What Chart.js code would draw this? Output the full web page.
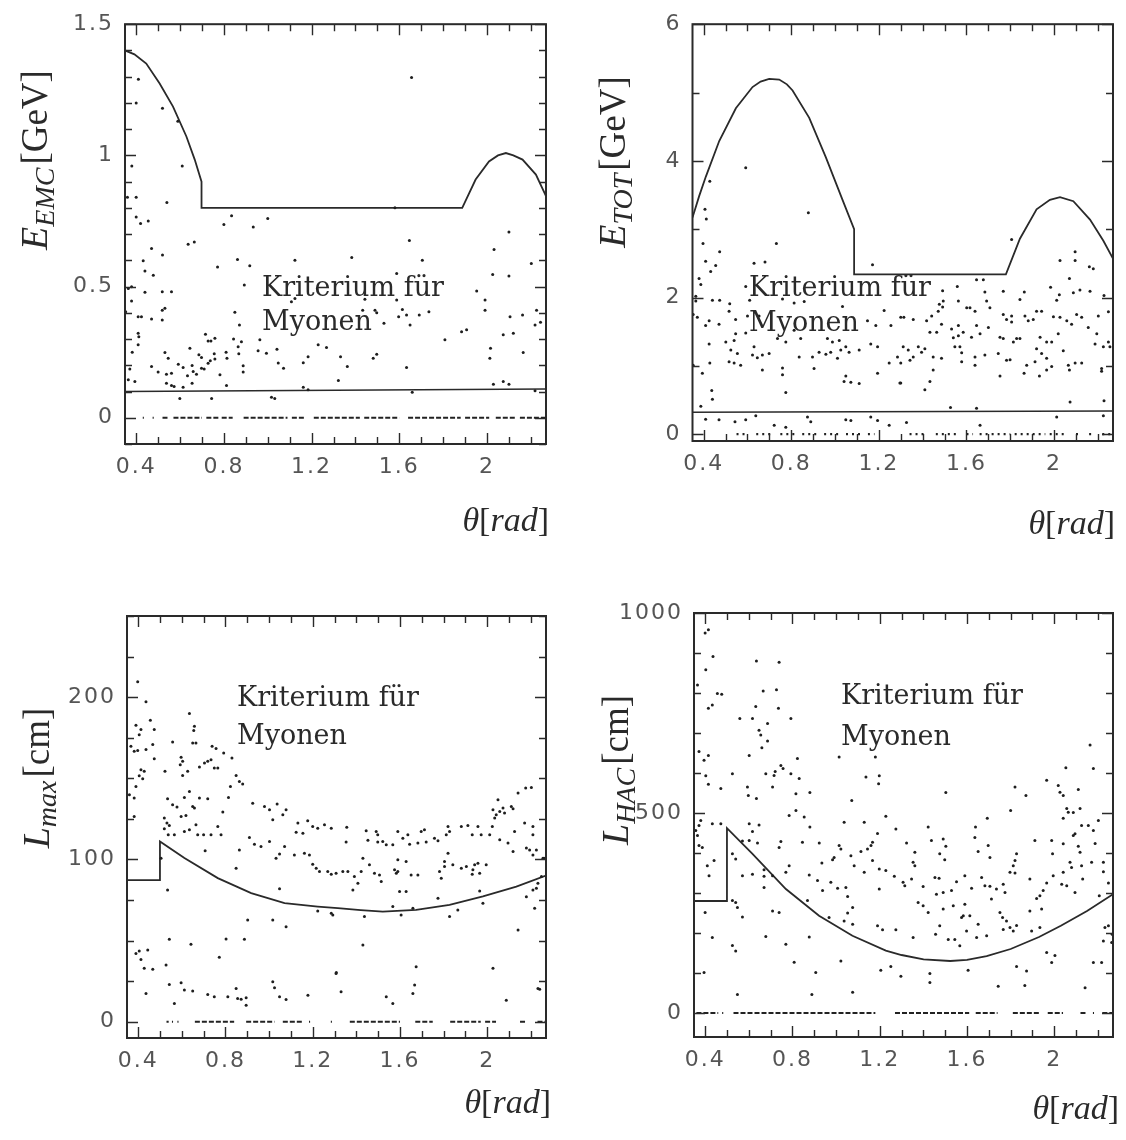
<!DOCTYPE html>
<html>
<head>
<meta charset="utf-8">
<script src="https://cdn.jsdelivr.net/npm/chart.js@4.4.0/dist/chart.umd.min.js"></script>
<style>
html, body { margin: 0; padding: 0; background: #fff; }
#wrap { position: relative; width: 1126px; height: 1140px; overflow: hidden; }
#wrap canvas { position: absolute; }
</style>
</head>
<body>
<div id="wrap">
  <canvas id="c-emc" width="563" height="570" style="left:0;top:0"></canvas>
  <canvas id="c-tot" width="563" height="570" style="left:563px;top:0"></canvas>
  <canvas id="c-lmax" width="563" height="570" style="left:0;top:570px"></canvas>
  <canvas id="c-lhac" width="563" height="570" style="left:563px;top:570px"></canvas>
</div>
<script>
// theta axis (rad), shared by all four panels
const thetaRange = [0.349, 2.269];
const xTickLabels = [0.4, 0.8, 1.2, 1.6, 2];

// --- E_EMC panel ---
const emcTickLabels = [0, 0.5, 1, 1.5];
const emcPoints = [[0.41,1.29],[0.40,1.20],[0.52,1.18],[0.59,1.13],[0.38,0.96],[0.61,0.96],[0.36,0.84],[0.40,0.84],[0.54,0.82],[0.40,0.765],[0.42,0.74],[0.455,0.75],[0.835,0.77],[0.80,0.737],[0.934,0.727],[1.00,0.759],[0.637,0.661],[0.665,0.67],[0.47,0.645],[0.52,0.62],[0.432,0.598],[0.44,0.559],[0.478,0.543],[0.862,0.603],[0.771,0.575],[0.918,0.579],[1.124,0.60],[0.379,0.499],[0.364,0.493],[0.44,0.478],[0.519,0.48],[0.561,0.48],[0.893,0.506],[0.379,0.445],[0.531,0.417],[0.519,0.41],[0.85,0.402],[1.108,0.442],[1.124,0.455],[0.352,0.404],[0.409,0.385],[0.424,0.385],[0.47,0.376],[0.519,0.373],[0.871,0.354],[0.409,0.322],[0.412,0.309],[0.409,0.278],[0.716,0.318],[0.728,0.293],[0.741,0.293],[0.759,0.303],[0.844,0.30],[0.88,0.29],[0.865,0.271],[0.964,0.297],[0.645,0.265],[0.382,0.25],[0.531,0.249],[0.546,0.227],[0.686,0.24],[0.698,0.23],[0.756,0.244],[0.81,0.25],[0.814,0.227],[0.868,0.244],[0.956,0.255],[0.994,0.246],[1.042,0.261],[1.23,0.278],[1.268,0.268],[1.184,0.233],[1.162,0.21],[0.371,0.186],[0.47,0.195],[0.50,0.174],[0.538,0.166],[0.561,0.17],[0.592,0.204],[0.614,0.192],[0.634,0.16],[0.655,0.199],[0.66,0.176],[0.675,0.166],[0.698,0.189],[0.71,0.186],[0.728,0.208],[0.738,0.217],[0.759,0.224],[0.782,0.164],[0.888,0.198],[0.888,0.174],[1.048,0.209],[1.072,0.189],[0.364,0.145],[0.394,0.138],[0.538,0.132],[0.561,0.123],[0.573,0.119],[0.614,0.116],[0.655,0.132],[0.812,0.123],[0.599,0.073],[0.744,0.073],[1.017,0.078],[1.032,0.073],[1.162,0.116],[1.184,0.107],
  [1.656,1.297],[1.646,0.676],[1.383,0.611],[1.705,0.60],[1.588,0.55],[2.032,0.641],[2.026,0.546],[2.10,0.708],[2.10,0.54],[2.202,0.588],[1.953,0.483],[1.991,0.449],[1.991,0.41],[1.443,0.452],[1.588,0.449],[1.433,0.41],[1.489,0.41],[1.497,0.40],[1.614,0.413],[1.633,0.392],[1.597,0.385],[1.649,0.354],[1.691,0.392],[1.735,0.404],[1.53,0.36],[2.105,0.385],[2.162,0.392],[2.226,0.41],[2.219,0.354],[2.244,0.364],[2.12,0.322],[2.074,0.316],[1.884,0.328],[1.907,0.335],[1.808,0.297],[1.332,0.233],[1.363,0.195],[1.481,0.227],[1.497,0.242],[1.633,0.192],[2.013,0.227],[2.016,0.265],[2.165,0.249],[1.322,0.142],[2.029,0.128],[2.074,0.138],[2.10,0.128],[1.659,0.097],[2.219,0.103],[1.58,0.80]];
const emcCurve = [[0.349,1.40],[0.392,1.385],[0.446,1.35],[0.507,1.274],[0.568,1.186],[0.629,1.072],[0.667,0.984],[0.698,0.90],[0.698,0.80],[1.887,0.80],[1.948,0.908],[2.009,0.977],[2.05,1.00],[2.086,1.009],[2.12,1.00],[2.162,0.984],[2.223,0.927],[2.269,0.845]];
const emcCut = [[0.349,0.10],[2.269,0.11]];
const emcZero = [[0.43,0.435],[0.475,0.48],[0.52,0.55],[0.57,0.70],[0.72,0.78],[0.79,0.84],[0.89,1.09],[1.11,1.17],[1.21,1.42],[1.44,1.60],[1.64,1.88],[1.90,2.01],[2.04,2.13],[2.15,2.27]];

// --- E_TOT panel ---
const totTickLabels = [0, 2, 4, 6];
const totPoints = [[0.592,3.90],[0.878,3.24],[0.428,3.70],[0.406,3.29],[0.412,3.15],[0.397,2.79],[0.732,2.79],[0.473,2.67],[0.409,2.53],[0.455,2.47],[0.432,2.38],[0.630,2.50],[0.680,2.52],[1.171,2.48],[0.379,2.28],[0.387,2.19],[0.592,2.16],[0.364,2.02],[0.364,1.95],[0.440,1.96],[0.473,1.96],[0.519,1.91],[0.760,1.98],[0.813,1.92],[0.859,1.94],[0.610,1.96],[1.034,1.87],[0.352,1.75],[0.371,1.71],[0.409,1.59],[0.425,1.66],[0.470,1.61],[0.546,1.68],[0.600,1.73],[0.653,1.73],[0.516,1.80],[1.148,1.66],[1.224,1.81],[1.186,1.59],[1.255,1.59],[1.300,1.71],[0.546,1.47],[0.592,1.48],[0.737,1.40],[0.775,1.35],[0.813,1.52],[0.843,1.40],[0.965,1.40],[0.988,1.35],[1.019,1.37],[1.049,1.28],[0.501,1.35],[0.539,1.37],[0.425,1.32],[0.524,1.23],[0.554,1.18],[0.623,1.16],[0.645,1.12],[0.668,1.16],[0.699,1.18],[0.630,1.28],[0.836,1.13],[0.897,1.13],[0.927,1.20],[0.958,1.17],[0.980,1.20],[1.011,1.11],[1.026,1.23],[1.064,1.20],[1.110,1.23],[1.163,1.32],[1.194,1.28],[0.516,1.06],[0.539,1.04],[0.569,1.01],[0.352,1.01],[0.394,0.89],[0.428,1.04],[0.668,0.94],[0.760,0.97],[0.760,0.87],[0.904,0.96],[1.049,0.85],[1.041,0.77],[1.072,0.76],[1.110,0.74],[1.194,0.89],[1.247,1.04],[1.285,1.13],[1.300,1.04],[0.437,0.64],[0.440,0.51],[0.775,0.61],[0.387,0.41],[1.300,0.75],
  [0.409,0.22],[0.470,0.21],[0.543,0.18],[0.592,0.21],[0.638,0.27],[0.722,0.13],[0.775,0.10],[0.874,0.25],[0.889,0.18],[1.049,0.21],[1.072,0.20],[1.163,0.25],[1.194,0.20],[1.247,0.13],
  [1.806,2.85],[2.027,2.54],[2.096,2.67],[2.096,2.54],[2.070,2.28],[2.161,2.45],[2.179,2.42],[1.646,2.26],[1.677,2.26],[1.491,2.10],[1.558,2.16],[1.684,2.08],[1.768,2.09],[1.864,2.08],[1.984,2.15],[2.088,2.07],[2.118,2.11],[2.164,2.09],[2.228,2.03],[2.024,2.04],[2.012,1.96],[1.494,1.95],[1.563,1.95],[1.692,1.95],[1.844,1.97],[1.920,1.80],[1.943,1.80],[1.476,1.90],[1.491,1.86],[1.471,1.80],[1.601,1.85],[1.616,1.85],[1.639,1.80],[1.707,1.85],[1.768,1.75],[1.783,1.68],[1.806,1.73],[1.806,1.64],[1.867,1.73],[1.882,1.66],[1.905,1.68],[1.997,1.72],[2.027,1.71],[2.058,1.66],[2.103,1.75],[2.126,1.71],[2.080,1.61],[2.248,1.79],[2.202,1.73],[1.357,1.68],[1.314,1.71],[1.418,1.66],[1.486,1.61],[1.441,1.73],[1.433,1.49],[1.464,1.49],[1.532,1.54],[1.563,1.59],[1.585,1.49],[1.646,1.59],[1.700,1.56],[1.540,1.41],[1.563,1.44],[1.623,1.42],[1.662,1.47],[1.753,1.42],[1.768,1.40],[1.814,1.35],[1.829,1.40],[1.844,1.40],[1.936,1.42],[2.019,1.47],[1.966,1.35],[1.989,1.35],[2.156,1.56],[2.195,1.47],[2.187,1.32],[2.225,1.28],[2.248,1.35],[2.255,1.28],[1.311,1.28],[1.334,1.23],[1.357,1.13],[1.380,1.28],[1.395,1.20],[1.410,1.25],[1.448,1.13],[1.486,1.11],[1.547,1.28],[1.570,1.28],[1.578,1.19],[1.639,1.13],[1.684,1.16],[1.745,1.18],[1.783,1.08],[1.799,1.09],[1.920,1.25],[1.943,1.18],[1.966,1.11],[1.875,1.01],[1.913,1.06],[1.966,0.94],[1.989,0.99],[2.042,1.22],[2.065,1.01],[2.096,1.04],[2.126,1.04],[2.217,0.96],[2.217,0.92],[1.448,0.94],[1.433,0.77],[1.410,0.65],[1.296,0.75],[1.342,1.08],[1.578,1.06],[1.639,1.01],[1.753,0.85],[1.863,0.89],[1.933,0.85],[2.070,0.94],[2.073,0.47],[2.228,0.49],[1.527,0.39],[1.646,0.38],
  [2.012,0.25],[2.225,0.27],[1.662,0.13],[1.326,0.17]];
const totCurve = [[0.349,3.17],[0.379,3.48],[0.41,3.77],[0.471,4.29],[0.547,4.77],[0.623,5.08],[0.66,5.16],[0.699,5.20],[0.745,5.19],[0.78,5.12],[0.806,5.03],[0.882,4.63],[0.958,4.05],[1.034,3.43],[1.087,3.00],[1.087,2.34],[1.780,2.34],[1.844,2.86],[1.920,3.29],[1.981,3.43],[2.027,3.47],[2.088,3.41],[2.164,3.14],[2.225,2.83],[2.269,2.57]];
const totCut = [[0.349,0.32],[2.269,0.34]];
const totZero = [[0.55,0.60],[0.64,0.72],[0.75,0.82],[0.85,0.92],[0.95,1.02],[1.05,1.12],[1.15,1.18],[1.34,1.42],[1.46,1.56],[1.60,1.63],[1.66,1.80],[1.82,1.96],[1.98,2.05],[2.10,2.12],[2.16,2.17],[2.22,2.27]];

// --- L_max panel ---
const lmaxTickLabels = [0, 100, 200];
const lmaxPoints = [[0.398,209.5],[0.436,197.1],[0.635,189.9],[0.456,185.8],[0.390,182.7],[0.413,180.0],[0.405,176.9],[0.474,180.0],[0.658,182.1],[0.655,179.4],[0.367,169.7],[0.382,166.6],[0.398,167.1],[0.436,167.7],[0.467,170.8],[0.558,172.4],[0.650,171.8],[0.665,171.8],[0.739,169.7],[0.757,168.3],[0.792,165.6],[0.597,162.9],[0.604,160.5],[0.474,162.1],[0.413,155.3],[0.428,154.3],[0.405,151.6],[0.421,149.8],[0.523,154.3],[0.593,158.4],[0.604,151.8],[0.627,154.3],[0.681,157.0],[0.704,159.4],[0.719,160.5],[0.734,161.5],[0.749,156.4],[0.765,156.4],[0.830,162.5],[0.849,151.8],[0.864,148.1],[0.879,146.5],[0.390,145.0],[0.360,139.9],[0.382,137.8],[0.823,145.0],[0.814,138.2],[0.635,141.9],[0.535,137.4],[0.558,133.7],[0.578,132.3],[0.612,138.2],[0.658,131.7],[0.681,137.8],[0.719,137.4],[0.788,129.2],[0.925,134.7],[0.979,132.7],[1.002,130.6],[1.037,134.1],[1.063,127.6],[1.078,130.6],[1.017,124.5],[0.382,126.5],[0.520,125.5],[0.532,122.4],[0.543,121.0],[0.520,118.9],[0.538,115.2],[0.566,115.2],[0.597,126.5],[0.619,127.1],[0.650,132.7],[0.665,121.4],[0.612,117.3],[0.635,118.3],[0.673,115.2],[0.700,115.2],[0.707,105.3],[0.734,115.2],[0.765,120.3],[0.780,115.2],[0.910,113.5],[0.933,109.4],[0.963,108.0],[1.002,111.1],[1.032,100.8],[1.048,103.3],[1.071,108.0],[1.124,116.8],[1.132,122.4],[1.155,116.2],[1.177,123.8],[1.200,120.3],[1.223,119.3],[1.254,121.4],[1.285,119.3],[1.116,102.8],[1.162,103.9],[1.185,102.8],[1.200,97.1],[1.231,92.6],[1.269,92.6],[1.285,90.9],[1.216,94.6],[0.864,105.9],[0.849,94.6],[0.505,100.8],[0.535,81.2],[0.902,62.7],[1.017,62.7],[1.078,58.6],[1.285,66.8],[1.223,68.3],[1.048,81.9],[0.543,50.8],[0.642,47.7],[0.803,51.0],[0.887,50.8],[0.772,39.7],[0.390,42.1],[0.405,43.6],[0.444,44.2],[0.413,38.4],[0.428,32.9],[0.467,32.3],[0.528,34.9],[0.543,23.0],[0.597,24.0],[0.436,17.4],[0.566,11.3],[0.612,19.5],[0.650,18.9],[0.719,16.8],[0.749,15.4],[0.811,15.4],[0.849,20.5],[0.856,14.4],[0.872,13.9],[0.895,14.8],[0.895,10.2],[1.017,24.6],[1.025,20.9],[1.048,15.4],[1.078,13.7],[1.178,16.4],[1.308,30.4],
  [1.356,119.9],[1.353,110.7],[1.453,111.9],[1.445,117.7],[1.491,117.3],[1.498,115.2],[1.498,110.7],[1.521,111.1],[1.537,109.0],[1.567,109.0],[1.590,117.3],[1.613,113.1],[1.636,115.2],[1.644,109.4],[1.682,110.1],[1.697,117.3],[1.712,118.3],[1.720,110.7],[1.758,113.1],[1.774,111.5],[1.812,115.2],[1.820,120.3],[1.827,117.3],[1.881,120.3],[1.911,120.9],[1.931,115.2],[1.957,120.3],[1.972,115.2],[2.034,125.5],[2.041,127.6],[2.049,136.8],[2.026,130.6],[2.057,129.6],[2.072,131.7],[2.079,128.6],[2.110,132.7],[2.118,131.2],[2.141,140.9],[2.176,144.0],[2.202,144.4],[2.023,120.3],[2.011,115.2],[2.057,112.1],[2.095,110.1],[2.118,104.9],[2.125,117.3],[2.171,122.4],[2.209,120.3],[2.209,115.2],[2.179,107.0],[2.194,105.9],[2.225,105.9],[2.209,102.8],[2.255,100.8],[1.307,91.5],[1.338,92.6],[1.361,92.6],[1.391,89.5],[1.430,100.8],[1.422,92.6],[1.460,96.7],[1.483,91.5],[1.514,86.4],[1.506,90.5],[1.575,93.6],[1.583,91.5],[1.590,92.6],[1.590,99.8],[1.628,98.7],[1.651,90.5],[1.682,90.5],[1.781,92.6],[1.789,88.4],[1.804,95.6],[1.804,98.7],[1.820,103.9],[1.842,96.7],[1.881,94.6],[1.904,95.6],[1.934,93.6],[1.942,96.7],[1.957,97.7],[1.931,90.9],[1.965,91.5],[1.995,96.7],[1.384,81.2],[1.407,85.4],[1.598,80.2],[1.628,80.2],[1.774,76.1],[1.965,80.6],[1.980,73.0],[2.179,77.1],[2.209,81.2],[2.225,82.3],[2.232,85.4],[2.248,89.5],[2.26,100.8],[1.292,65.8],[1.437,64.8],[1.567,71.0],[1.605,65.8],[1.659,69.9],[1.827,64.8],[1.865,68.9],[2.217,69.9],[2.141,56.5],[1.430,47.3],[1.307,29.8],[1.330,18.5],[1.537,15.4],[1.567,11.3],[1.667,22.6],[1.659,17.4],[1.674,33.9],[2.026,32.9],[2.087,13.3],[2.232,20.5],[2.240,20.1]];
const lmaxCurve = [[0.349,87.3],[0.50,87.3],[0.50,111.1],[0.612,100.9],[0.765,88.5],[0.918,79.3],[1.071,73.1],[1.223,71.0],[1.315,70.0],[1.42,68.8],[1.521,67.9],[1.674,68.9],[1.827,72.0],[1.98,77.2],[2.133,83.3],[2.269,90.1]];
const lmaxZero = [[0.53,0.54],[0.555,0.56],[0.58,0.585],[0.66,0.84],[0.895,1.025],[1.063,1.155],[1.183,1.188],[1.283,1.288],[1.37,1.60],[1.67,1.75],[1.83,1.97],[1.99,2.04],[2.15,2.18],[2.23,2.27]];

// --- L_HAC panel ---
const lhacTickLabels = [0, 500, 1000];
const lhacPoints = [[0.40,950],[0.415,958],[0.436,891],[0.403,858],[0.635,880],[0.739,877],[0.365,820],[0.456,799],[0.476,797],[0.433,770],[0.415,762],[0.666,805],[0.727,808],[0.632,766],[0.736,762],[0.559,736],[0.617,736],[0.793,736],[0.647,707],[0.655,695],[0.686,724],[0.686,680],[0.660,663],[0.372,654],[0.395,632],[0.415,644],[0.602,644],[0.823,636],[1.014,640],[1.180,640],[0.403,593],[0.415,572],[0.525,598],[0.678,598],[0.716,594],[0.721,604],[0.747,619],[0.757,611],[0.793,598],[0.831,586],[0.709,565],[0.594,565],[0.598,544],[0.472,561],[0.816,548],[0.880,551],[0.635,536],[1.137,590],[1.198,593],[1.195,573],[1.072,531],[0.785,494],[0.816,506],[0.854,490],[0.880,465],[1.228,492],[0.380,481],[0.372,469],[0.357,456],[0.365,444],[0.372,419],[0.387,414],[0.433,473],[0.472,473],[0.602,473],[0.647,470],[0.617,454],[0.571,430],[0.602,431],[0.640,425],[0.747,429],[0.739,414],[0.846,427],[0.923,425],[1.037,477],[1.129,477],[1.190,449],[1.274,460],[0.525,398],[0.540,385],[1.014,419],[1.022,410],[1.068,393],[1.114,404],[1.144,410],[1.160,419],[1.167,427],[0.991,389],[0.984,383],[0.410,368],[0.441,381],[0.418,343],[0.571,343],[0.617,347],[0.670,358],[0.670,342],[0.709,343],[0.770,352],[0.785,368],[0.877,345],[0.935,375],[0.915,331],[0.976,327],[1.007,312],[1.045,314],[1.053,291],[1.083,368],[1.129,352],[1.167,381],[1.198,360],[1.228,356],[1.267,342],[1.198,310],[0.670,314],[0.938,306],[0.400,251],[0.525,281],[0.540,276],[0.548,264],[0.571,240],[0.709,255],[0.739,251],[0.869,281],[1.053,250],[1.076,264],[1.076,222],[1.037,230],[0.968,239],[1.190,218],[1.213,208],[1.274,208],[0.433,189],[0.678,191],[0.877,190],[0.525,169],[0.540,155],[0.770,172],[0.808,127],[1.022,130],[1.205,107],[1.251,116],[1.297,92],[0.395,101],[0.907,101],[0.548,46],[0.889,46],[1.076,52],
  [2.164,670],[2.053,613],[2.179,611],[1.965,582],[1.820,565],[1.870,544],[2.018,569],[2.026,552],[2.041,544],[2.110,559],[1.503,551],[1.800,506],[1.693,487],[2.057,511],[2.064,502],[2.087,501],[2.118,511],[2.041,487],[2.125,469],[2.095,448],[2.156,469],[2.202,481],[2.179,456],[1.422,465],[1.639,465],[1.636,439],[1.361,402],[1.323,425],[1.491,435],[1.503,417],[1.437,431],[1.475,398],[1.498,383],[1.651,404],[1.697,419],[1.705,389],[1.353,377],[1.361,368],[1.827,398],[1.820,381],[1.812,368],[1.911,431],[1.988,431],[1.992,398],[2.041,423],[2.087,444],[2.110,417],[2.118,402],[1.995,343],[2.041,352],[2.072,377],[2.079,364],[2.125,368],[2.171,377],[2.187,424],[2.225,353],[2.225,377],[2.248,325],[2.206,293],[1.307,327],[1.315,318],[1.346,335],[1.399,316],[1.453,339],[1.472,337],[1.529,306],[1.552,328],[1.590,343],[1.621,312],[1.491,301],[1.537,268],[1.491,260],[1.590,272],[1.667,339],[1.682,318],[1.705,317],[1.735,310],[1.766,322],[1.774,301],[1.797,352],[1.820,350],[1.888,335],[1.919,286],[1.942,260],[1.934,293],[1.949,306],[1.965,325],[2.034,322],[2.057,318],[2.095,301],[2.130,335],[1.575,239],[1.583,243],[1.613,243],[1.651,222],[1.712,285],[1.751,251],[1.763,239],[1.781,230],[1.766,209],[1.797,214],[1.812,205],[1.827,219],[1.888,255],[1.896,205],[1.934,214],[1.376,276],[1.399,268],[1.422,251],[1.460,297],[1.475,218],[1.456,197],[1.544,184],[1.598,205],[1.567,168],[1.644,189],[1.690,193],[1.353,189],[1.514,184],[1.430,99],[1.430,76],[1.605,107],[1.743,67],[1.827,116],[1.873,105],[1.865,69],[2.141,63],[1.965,151],[1.988,126],[2.003,144],[2.179,126],[2.217,126],[2.225,180],[2.248,218],[2.263,176],[2.232,214],[2.265,197]];
const lhacCurve = [[0.349,280],[0.50,280],[0.50,462],[0.617,398],[0.77,310],[0.922,243],[1.075,193],[1.228,156],[1.30,145],[1.401,134],[1.523,130],[1.60,133],[1.69,142],[1.80,160],[1.93,190],[2.03,218],[2.15,255],[2.269,297]];
const lhacZero = [[0.36,0.46],[0.478,0.483],[0.53,1.18],[1.27,1.61],[1.64,1.74],[1.81,1.93],[1.97,2.04],[2.12,2.15],[2.177,2.182],[2.22,2.27]];

function q(id){ return document.getElementById(id); }

const INK = '#2a2a2a';
const SERIF = '"Liberation Serif", "DejaVu Serif", serif';
const NOTE_FONT = '27px "DejaVu Serif", serif';

// frame, inward ticks and the TeX-ish texts
const frameTicks = {
  id: 'frameTicks',
  beforeDraw(chart){ chart.ctx.letterSpacing = '2px'; },
  afterDraw(chart, args, o){
    const { ctx, chartArea: a, scales: { x, y } } = chart;
    ctx.save();
    ctx.letterSpacing = '0px';
    ctx.strokeStyle = INK;
    ctx.lineWidth = 1.4;
    eachTick(x.min, x.max, 0.1, 0.4, (v, major) => {
      const px = Math.round(x.getPixelForValue(v)) + 0.5, len = major ? 11 : 7;
      ctx.beginPath();
      ctx.moveTo(px, a.bottom); ctx.lineTo(px, a.bottom - len);
      ctx.moveTo(px, a.top); ctx.lineTo(px, a.top + len);
      ctx.stroke();
    });
    eachTick(y.min, y.max, o.yMinor, o.yMajor, (v, major) => {
      const py = Math.round(y.getPixelForValue(v)) + 0.5, len = major ? 11 : 7;
      ctx.beginPath();
      ctx.moveTo(a.left, py); ctx.lineTo(a.left + len, py);
      ctx.moveTo(a.right, py); ctx.lineTo(a.right - len, py);
      ctx.stroke();
    });
    ctx.lineWidth = 2;
    ctx.strokeRect(a.left, a.top, a.right - a.left, a.bottom - a.top);

    ctx.fillStyle = INK;
    ctx.textBaseline = 'alphabetic';
    ctx.textAlign = 'left';
    // y title, rotated, reading bottom to top
    const t = o.yTitle;
    const parts = [
      { s: t.main, f: 'italic 38px ' + SERIF, dy: 0, gap: 0 },
      { s: t.sub, f: 'italic 28px ' + SERIF, dy: 7, gap: 3 },
      { s: t.unit, f: '37px ' + SERIF, dy: 0, gap: 0 }
    ];
    let total = 0;
    parts.forEach(p => { ctx.font = p.f; p.w = ctx.measureText(p.s).width; total += p.w + p.gap; });
    ctx.save();
    ctx.translate(t.base - o.ox, t.cy - o.oy + total / 2);
    ctx.rotate(-Math.PI / 2);
    let off = 0;
    parts.forEach(p => { ctx.font = p.f; ctx.fillText(p.s, off, p.dy); off += p.w + p.gap; });
    ctx.restore();

    // "Kriterium für / Myonen"
    ctx.font = NOTE_FONT;
    ctx.fillText('Kriterium für', o.note.x - o.ox, o.note.y1 - o.oy);
    ctx.fillText('Myonen', o.note.x - o.ox, o.note.y2 - o.oy);

    // theta[rad], right aligned
    const xt = [
      { s: 'θ', f: 'italic 34px ' + SERIF },
      { s: '[', f: '34px ' + SERIF },
      { s: 'rad', f: 'italic 34px ' + SERIF },
      { s: ']', f: '34px ' + SERIF }
    ];
    let xw = 0;
    xt.forEach(p => { ctx.font = p.f; p.w = ctx.measureText(p.s).width; xw += p.w; });
    let xx = o.xTitle.right - o.ox - xw;
    xt.forEach(p => { ctx.font = p.f; ctx.fillText(p.s, xx, o.xTitle.y - o.oy); xx += p.w; });
    ctx.restore();
  }
};

function eachTick(min, max, step, major, cb){
  const i0 = Math.ceil(min / step - 1e-6), i1 = Math.floor(max / step + 1e-6);
  for (let i = i0; i <= i1; i++){
    const v = i * step, r = v / major;
    cb(v, Math.abs(r - Math.round(r)) < 1e-6);
  }
}

function toXY(arr){ return arr.map(d => ({ x: d[0], y: d[1] })); }

function zeroRow(segs){
  const out = [];
  segs.forEach(s => { out.push({ x: s[0], y: 0 }, { x: s[1], y: 0 }, { x: s[1], y: null }); });
  return out;
}

function makePanel(p){
  const datasets = [
    { data: toXY(p.points), pointRadius: 1.5, pointBackgroundColor: '#1e1e1e', pointBorderWidth: 0, showLine: false },
    { data: toXY(p.curve), showLine: true, pointRadius: 0, borderColor: INK, borderWidth: 1.8, tension: 0 },
    { data: zeroRow(p.zero), showLine: true, pointRadius: 0, borderColor: '#222', borderWidth: 2.2, borderDash: p.zeroDash, spanGaps: false }
  ];
  if (p.cut) datasets.push({ data: toXY(p.cut), showLine: true, pointRadius: 0, borderColor: INK, borderWidth: 1.5 });

  const tickFont = { family: '"DejaVu Sans", sans-serif', size: 22 };
  return new Chart(q(p.id).getContext('2d'), {
    type: 'scatter',
    data: { datasets },
    options: {
      responsive: false,
      animation: false,
      devicePixelRatio: 1,
      layout: { padding: p.pad },
      plugins: {
        legend: { display: false },
        tooltip: { enabled: false },
        frameTicks: {
          ox: p.ox, oy: p.oy, yMinor: p.yMinor, yMajor: p.yMajor,
          yTitle: p.yTitle, note: p.note, xTitle: p.xTitle
        }
      },
      scales: {
        x: {
          type: 'linear', min: thetaRange[0], max: thetaRange[1],
          grid: { display: false, drawTicks: false }, border: { display: false },
          ticks: { font: tickFont, color: '#555', padding: 10, autoSkip: false, maxRotation: 0, callback: v => String(v) },
          afterBuildTicks: s => { s.ticks = xTickLabels.map(v => ({ value: v })); },
          afterFit: s => { s.height = 40; }
        },
        y: {
          type: 'linear', min: p.yRange[0], max: p.yRange[1],
          grid: { display: false, drawTicks: false }, border: { display: false },
          ticks: { font: tickFont, color: '#555', padding: 11, autoSkip: false, callback: v => String(v) },
          afterBuildTicks: s => { s.ticks = p.yTicks.map(v => ({ value: v })); },
          afterFit: s => { s.width = 80; }
        }
      }
    },
    plugins: [frameTicks]
  });
}

const panels = [
  { id: 'c-emc', ox: 0, oy: 0, pad: { left: 45, top: 21, right: 17, bottom: 86 },
    yRange: [-0.1, 1.5], yTicks: emcTickLabels, yMinor: 0.1, yMajor: 0.5,
    points: emcPoints, curve: emcCurve, cut: emcCut, zero: emcZero, zeroDash: [5, 2],
    yTitle: { main: 'E', sub: 'EMC', unit: '[GeV]', base: 47, cy: 160 },
    note: { x: 262, y1: 296, y2: 330 }, xTitle: { right: 549, y: 531 } },
  { id: 'c-tot', ox: 563, oy: 0, pad: { left: 49.5, top: 16.5, right: 13, bottom: 89 },
    yRange: [-0.1, 6], yTicks: totTickLabels, yMinor: 1, yMajor: 2,
    points: totPoints, curve: totCurve, cut: totCut, zero: totZero, zeroDash: [2, 4],
    yTitle: { main: 'E', sub: 'TOT', unit: '[GeV]', base: 625, cy: 162 },
    note: { x: 749, y1: 296, y2: 331 }, xTitle: { right: 1115, y: 534 } },
  { id: 'c-lmax', ox: 0, oy: 570, pad: { left: 47, top: 46, right: 17, bottom: 62 },
    yRange: [-10, 250], yTicks: lmaxTickLabels, yMinor: 25, yMajor: 100,
    points: lmaxPoints, curve: lmaxCurve, zero: lmaxZero, zeroDash: [5, 2],
    yTitle: { main: 'L', sub: 'max', unit: '[cm]', base: 49, cy: 778 },
    note: { x: 237, y1: 706, y2: 744 }, xTitle: { right: 551, y: 1113 } },
  { id: 'c-lhac', ox: 563, oy: 570, pad: { left: 51, top: 43, right: 13, bottom: 63 },
    yRange: [-60, 1000], yTicks: lhacTickLabels, yMinor: 100, yMajor: 500,
    points: lhacPoints, curve: lhacCurve, zero: lhacZero, zeroDash: [5, 2],
    yTitle: { main: 'L', sub: 'HAC', unit: '[cm]', base: 628, cy: 770 },
    note: { x: 841, y1: 704, y2: 745 }, xTitle: { right: 1119, y: 1119 } }
];

panels.forEach(makePanel);
</script>
</body>
</html>
